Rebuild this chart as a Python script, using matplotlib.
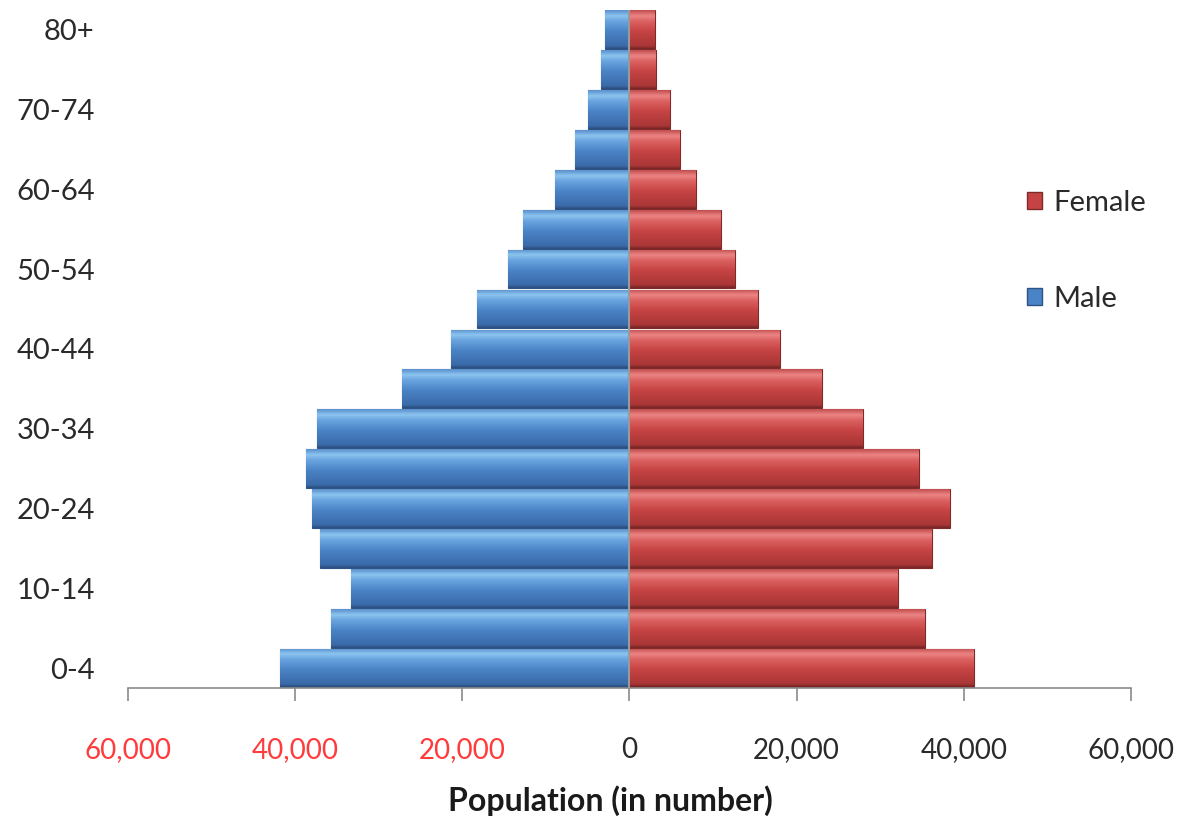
import matplotlib
matplotlib.use("Agg")
import matplotlib.pyplot as plt
import numpy as np
from matplotlib.colors import LinearSegmentedColormap
from matplotlib.patches import Patch

age_groups = ["0-4", "5-9", "10-14", "15-19", "20-24", "25-29", "30-34", "35-39",
              "40-44", "45-49", "50-54", "55-59", "60-64", "65-69", "70-74", "75-79", "80+"]
male = [41800, 35700, 33300, 37000, 38000, 38700, 37400, 27200, 21400, 18300,
        14500, 12700, 8900, 6500, 5000, 3400, 2900]
female = [41200, 35400, 32100, 36200, 38400, 34600, 27900, 23000, 18000, 15400,
          12600, 10900, 8000, 6000, 4900, 3200, 3000]
xtick_values = [-60000, -40000, -20000, 0, 20000, 40000, 60000]
xtick_labels = ["60,000", "40,000", "20,000", "0", "20,000", "40,000", "60,000"]

plt.rcParams['font.family'] = ['Lato', 'DejaVu Sans']

fig = plt.figure(figsize=(11.83, 8.21), dpi=100)
ax = fig.add_axes([0.1082, 0.162, 0.956 - 0.1082, 0.988 - 0.162])

y = np.arange(len(age_groups))
male_neg = [-v for v in male]

blue_cmap = LinearSegmentedColormap.from_list("b", [
    (0.0, "#2a4d7c"), (0.07, "#3a6aa8"), (0.45, "#4a83c6"),
    (0.72, "#6aa4e0"), (0.86, "#8cc4f0"), (1.0, "#5b90cc")])
red_cmap = LinearSegmentedColormap.from_list("r", [
    (0.0, "#742424"), (0.07, "#a83636"), (0.45, "#c64343"),
    (0.72, "#dc6262"), (0.86, "#ec8484"), (1.0, "#c24e4e")])

bm = ax.barh(y, male_neg, height=0.97, color="#4a83c6", edgecolor="#2e5486", linewidth=0.8, zorder=2)
bf = ax.barh(y, female, height=0.97, color="#c64343", edgecolor="#7e2a2a", linewidth=0.8, zorder=2)

grad = np.linspace(0, 1, 64).reshape(-1, 1)
for bars, cmap in ((bm, blue_cmap), (bf, red_cmap)):
    for p in bars:
        x0, y0 = p.get_x(), p.get_y()
        w, h = p.get_width(), p.get_height()
        im = ax.imshow(grad, extent=[min(x0, x0 + w), max(x0, x0 + w), y0, y0 + h],
                       origin="lower", aspect="auto", cmap=cmap, zorder=2.5,
                       interpolation="bicubic")
        im.set_clip_path(p)

ax.set_xlim(-60000, 60000)
ax.set_ylim(-0.5, len(age_groups) - 0.5)
ax.axvline(0, color="#9a9a9a", lw=1.5, zorder=3)

for s in ["top", "right", "left"]:
    ax.spines[s].set_visible(False)
ax.spines["bottom"].set_color("#8a8a8a")
ax.spines["bottom"].set_linewidth(1.2)

ax.set_xticks(xtick_values)
ax.set_xticklabels(xtick_labels, fontsize=20)
for lbl, v in zip(ax.get_xticklabels(), xtick_values):
    lbl.set_color("#ff3b3b" if v < 0 else "#2a2a2a")
ax.tick_params(axis="x", length=9, width=1.2, color="#8a8a8a", pad=26)

ax.set_yticks(y[::2])
ax.set_yticklabels(age_groups[::2], fontsize=21, color="#2a2a2a")
ax.tick_params(axis="y", length=0, pad=24)

ax.set_xlabel("Population (in number)", fontsize=23, fontweight="bold", color="#1a1a1a", labelpad=16)
ax.xaxis.label.set_x(0.4806)

handles = [Patch(facecolor="#c64343", edgecolor="#7e2a2a"), Patch(facecolor="#4a83c6", edgecolor="#2e5486")]
leg = ax.legend(handles, ["Female", "Male"], loc="center left", bbox_to_anchor=(0.868, 0.6945),
                bbox_transform=fig.transFigure, borderpad=0, borderaxespad=0,
                frameon=False, fontsize=21, labelspacing=2.4, handlelength=0.52, handleheight=0.52,
                handletextpad=0.4, labelcolor="#2a2a2a")

fig.savefig("out.png", dpi=100, facecolor="white")
